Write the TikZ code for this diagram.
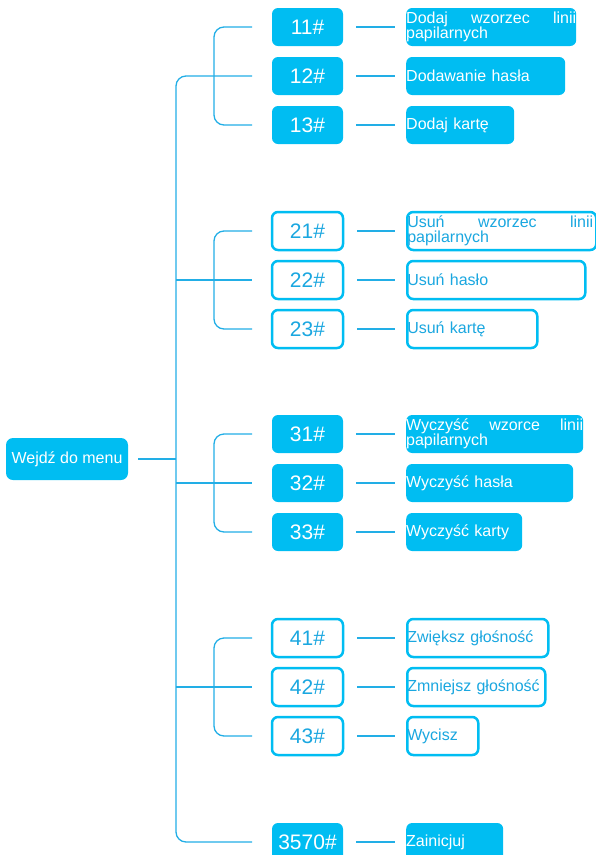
\documentclass[tikz,border=0pt]{standalone}
\usepackage{fontspec}
\setmainfont{Liberation Sans}
\definecolor{menu}{HTML}{00BDF2}
\definecolor{wire}{HTML}{22AEE6}
\definecolor{ink}{HTML}{1AA7E0}
\newcommand{\fillline}[2]{\hbox to #1{#2}}

\begin{document}
\begin{tikzpicture}[x=1pt,y=-1pt,
  conn/.style={draw=wire,line width=1.3pt},
  key/.style={rounded corners=6pt,minimum width=71pt,minimum height=38pt,inner sep=0pt,font=\fontsize{21}{23}\selectfont},
  keyf/.style={key,fill=menu,text=white},
  keyo/.style={key,draw=menu,line width=2.5pt,fill=white,text=ink},
  act/.style={rounded corners=6pt,minimum height=38pt,inner sep=0pt,anchor=west,align=left,text width=#1,font=\fontsize{16}{15}\selectfont},
  actf/.style={act=#1,fill=menu,text=white},
  acto/.style={act=#1,draw=menu,line width=2.5pt,fill=white,text=ink}]
\useasboundingbox (0,0) rectangle (596,855);

% root
\node[fill=menu,text=white,rounded corners=7pt,minimum width=122pt,minimum height=42pt,inner sep=0pt,font=\fontsize{16}{18}\selectfont] (menu) at (67,459) {Wejdź do menu};
\coordinate (t) at (176,459);

% group 1
\node[keyf] (n11) at (307.5,27) {11\#};
\node[keyf] (n12) at (307.5,76) {12\#};
\node[keyf] (n13) at (307.5,125) {13\#};
\node[actf=170pt] (d11) at (406,27) {\fillline{170pt}{Dodaj\hfill wzorzec\hfill linii}\\papilarnych};
\node[actf=159pt] (d12) at (406,76) {Dodawanie hasła};
\node[actf=108pt] (d13) at (406,125) {Dodaj kartę};

% group 2
\node[keyo] (n21) at (307.5,231) {21\#};
\node[keyo] (n22) at (307.5,280) {22\#};
\node[keyo] (n23) at (307.5,329) {23\#};
\node[acto=189pt] (d21) at (406,231) {\fillline{186pt}{Usuń\hfill wzorzec\hfill linii}\\papilarnych};
\node[acto=178pt] (d22) at (406,280) {Usuń hasło};
\node[acto=130pt] (d23) at (406,329) {Usuń kartę};

% group 3
\node[keyf] (n31) at (307.5,434) {31\#};
\node[keyf] (n32) at (307.5,483) {32\#};
\node[keyf] (n33) at (307.5,532) {33\#};
\node[actf=177pt] (d31) at (406,434) {\fillline{177pt}{Wyczyść\hfill wzorce\hfill linii}\\papilarnych};
\node[actf=167pt] (d32) at (406,483) {Wyczyść hasła};
\node[actf=116pt] (d33) at (406,532) {Wyczyść karty};

% group 4
\node[keyo] (n41) at (307.5,638) {41\#};
\node[keyo] (n42) at (307.5,687) {42\#};
\node[keyo] (n43) at (307.5,736) {43\#};
\node[acto=141pt] (d41) at (406,638) {Zwiększ głośność};
\node[acto=138pt] (d42) at (406,687) {Zmniejsz głośność};
\node[acto=71pt] (d43) at (406,736) {Wycisz};

% init
\node[keyf] (n3570) at (307.5,842) {3570\#};
\node[actf=97pt] (d3570) at (406,842) {Zainicjuj};

% free ends in front of the keys
\foreach \i/\y in {11/27,12/76,13/125,21/231,22/280,23/329,31/434,32/483,33/532,41/638,42/687,43/736,3570/842}
  \coordinate (k\i) at (252,\y);

% key -> action
\foreach \i in {11,12,13,21,22,23,31,32,33,41,42,43,3570}
  \draw[conn,shorten <=13pt,shorten >=11pt] (n\i) -- (d\i);

% brackets
\foreach \g in {1,2,3,4}
  \draw[conn,rounded corners=10pt] (k\g1) -| ([xshift=-38pt]k\g3) -- (k\g3);

% trunk
\draw[conn,rounded corners=10pt] (k12) -| (t |- k3570) -- (k3570);
\draw[conn,shorten <=10pt] (menu) -- (t);
\draw[conn] (k22 -| t) -- (k22);
\draw[conn] (k32 -| t) -- (k32);
\draw[conn] (k42 -| t) -- (k42);
\end{tikzpicture}
\end{document}
